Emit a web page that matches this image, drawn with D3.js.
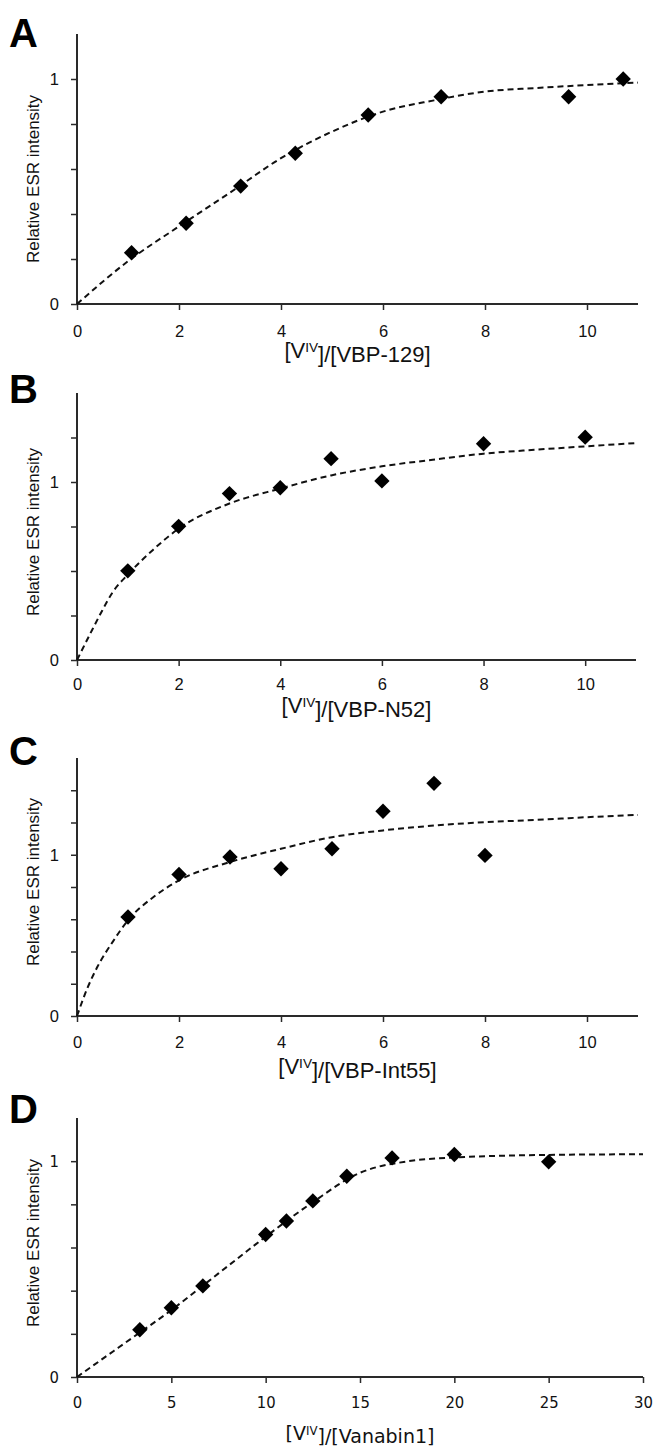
<!DOCTYPE html>
<html>
<head>
<meta charset="utf-8">
<script src="https://cdn.jsdelivr.net/npm/d3@7"></script>
<style>
  body { margin: 0; background: #fff; }
  svg { display: block; }
</style>
</head>
<body>
<div id="chart"></div>
<script>
const xA = [1.07, 2.14, 3.21, 4.28, 5.71, 7.14, 9.64, 10.71];
const yA = [0.228, 0.359, 0.524, 0.67, 0.84, 0.921, 0.921, 1.0];
const fitXA = [0, 1, 2, 3, 4, 5, 6, 7, 8, 9, 10, 11];
const fitYA = [0, 0.19, 0.345, 0.495, 0.648, 0.766, 0.855, 0.905, 0.944, 0.96, 0.973, 0.984];

const xB = [1, 2, 3, 4, 5, 6, 8, 10];
const yB = [0.501, 0.751, 0.935, 0.968, 1.131, 1.006, 1.215, 1.252];
const fitXB = [0, 0.3, 0.5, 0.7, 1, 1.5, 2, 3, 4, 5, 6, 7, 8, 9, 10, 11];
const fitYB = [0, 0.17, 0.28, 0.38, 0.48, 0.62, 0.738, 0.879, 0.963, 1.037, 1.088, 1.125, 1.159, 1.181, 1.2, 1.219];

const xC = [1, 2, 3, 4, 5, 6, 7, 8];
const yC = [0.614, 0.878, 0.986, 0.913, 1.037, 1.27, 1.443, 0.996];
const fitXC = [0, 0.2, 0.4, 0.7, 1, 1.5, 2, 3, 4, 5, 6, 7, 8, 9, 10, 11];
const fitYC = [0, 0.17, 0.305, 0.46, 0.594, 0.738, 0.841, 0.955, 1.037, 1.109, 1.151, 1.181, 1.202, 1.216, 1.233, 1.247];

const xD = [3.33, 5, 6.67, 10, 11.1, 12.5, 14.3, 16.7, 20, 25];
const yD = [0.219, 0.321, 0.422, 0.66, 0.723, 0.816, 0.93, 1.015, 1.031, 0.997];
const fitXD = [0, 2.5, 5, 7.5, 10, 12.5, 15, 16, 17, 18, 20, 22.5, 25, 30];
const fitYD = [0, 0.155, 0.31, 0.48, 0.65, 0.81, 0.946, 0.975, 0.992, 1.005, 1.017, 1.025, 1.029, 1.032];

const letters = ['A', 'B', 'C', 'D'];
const titleNames = ['VBP-129', 'VBP-N52', 'VBP-Int55', 'Vanabin1'];
const yLabel = 'Relative ESR intensity';
const xMax = [11, 11, 11, 30];
const yMax = [1.2, 1.5, 1.6, 1.2];
const yStep = [0.2, 0.25, 0.2, 0.2];
const xTicksABC = [0, 2, 4, 6, 8, 10];
const xTicksD = [0, 5, 10, 15, 20, 25, 30];
const yLabelled = [0, 1];

const W = 657, H = 1449;
const svg = d3.select('#chart').append('svg').attr('width', W).attr('height', H);
svg.append('rect').attr('width', W).attr('height', H).attr('fill', '#fff');

// layout of each panel (pixels)
const layout = [
  {top: 34,   bottom: 304,  right: 638, letterY: 47,   tickPad: 15.5, titleY: 358,  labelY: 179},
  {top: 393,  bottom: 660,  right: 636, letterY: 403,  tickPad: 12.5, titleY: 713,  labelY: 532},
  {top: 758,  bottom: 1016, right: 638, letterY: 765,  tickPad: 14.5, titleY: 1074, labelY: 882},
  {top: 1118, bottom: 1377, right: 643, letterY: 1123, tickPad: 13.5, titleY: 1440, labelY: 1243}
];
const left = 77;

const panels = [
  {xs: xA, ys: yA, fx: fitXA, fy: fitYA},
  {xs: xB, ys: yB, fx: fitXB, fy: fitYB},
  {xs: xC, ys: yC, fx: fitXC, fy: fitYC},
  {xs: xD, ys: yD, fx: fitXD, fy: fitYD}
];

const sansFont = "'Liberation Sans', Arial, Helvetica, sans-serif";
const dvFont = "'DejaVu Sans Condensed', 'DejaVu Sans', sans-serif";

panels.forEach(function(p, i) {
  const L = layout[i];
  const isD = i === 3;
  const tickFont = isD ? dvFont : sansFont;
  const g = svg.append('g');

  const x = d3.scaleLinear().domain([0, xMax[i]]).range([left, L.right]);
  const y = d3.scaleLinear().domain([0, yMax[i]]).range([L.bottom, L.top]);

  // y axis
  const yTicks = d3.range(0, yMax[i] - 1e-6, yStep[i]);
  const yAxis = g.append('g').attr('transform', 'translate(' + left + ',0)')
    .call(d3.axisLeft(y).tickValues(yTicks).tickSize(6).tickPadding(12)
      .tickFormat(function(d) { return yLabelled.some(v => Math.abs(v - d) < 1e-6) ? d3.format('d')(d) : ''; }));

  // x axis
  const xAxis = g.append('g').attr('transform', 'translate(0,' + L.bottom + ')')
    .call(d3.axisBottom(x).tickValues(isD ? xTicksD : xTicksABC).tickSize(6).tickPadding(L.tickPad));

  [yAxis, xAxis].forEach(function(ax) {
    ax.select('.domain').attr('stroke', '#2a2a2a').attr('stroke-width', 2);
    ax.selectAll('.tick line').attr('stroke', '#2a2a2a').attr('stroke-width', 1.5);
    ax.selectAll('.tick text').attr('fill', '#111').style('font-family', tickFont).style('font-size', '16.5px');
  });
  // axis lines without end caps
  yAxis.select('.domain').attr('d', 'M0,' + L.bottom + 'V' + L.top);
  xAxis.select('.domain').attr('d', 'M' + left + ',0H' + L.right);

  // fit curve
  const line = d3.line().x(d => x(d[0])).y(d => y(d[1])).curve(d3.curveMonotoneX);
  g.append('path')
    .datum(p.fx.map((v, k) => [v, p.fy[k]]))
    .attr('d', line)
    .attr('fill', 'none')
    .attr('stroke', '#111')
    .attr('stroke-width', 2)
    .attr('stroke-dasharray', '6,4');

  // diamonds
  const sym = d3.symbol().type(d3.symbolSquare).size(118);
  g.selectAll('.pt').data(p.xs.map((v, k) => [v, p.ys[k]])).enter().append('path')
    .attr('class', 'pt')
    .attr('d', sym)
    .attr('transform', d => 'translate(' + x(d[0]) + ',' + y(d[1]) + ') rotate(45)')
    .attr('fill', '#000');

  // panel letter
  svg.append('text').attr('x', 9).attr('y', L.letterY)
    .style('font-family', sansFont).style('font-weight', 'bold').style('font-size', '40px')
    .attr('fill', '#000').text(letters[i]);

  // y label
  svg.append('text')
    .attr('transform', 'translate(39,' + L.labelY + ') rotate(-90)')
    .attr('text-anchor', 'middle')
    .style('font-family', sansFont).style('font-size', '17px')
    .attr('fill', '#111').text(yLabel);

  // x title with superscript
  const t = svg.append('text')
    .attr('x', (left + L.right) / 2).attr('y', L.titleY)
    .attr('text-anchor', 'middle')
    .style('font-family', isD ? "'DejaVu Sans', sans-serif" : sansFont)
    .style('font-size', isD ? '19px' : '22px')
    .attr('fill', '#111');
  t.append('tspan').text('[V');
  t.append('tspan').attr('dy', '-0.45em').style('font-size', '62%').text('IV');
  t.append('tspan').attr('dy', '0.45em').text(']/[' + titleNames[i] + ']');
});
</script>
</body>
</html>
